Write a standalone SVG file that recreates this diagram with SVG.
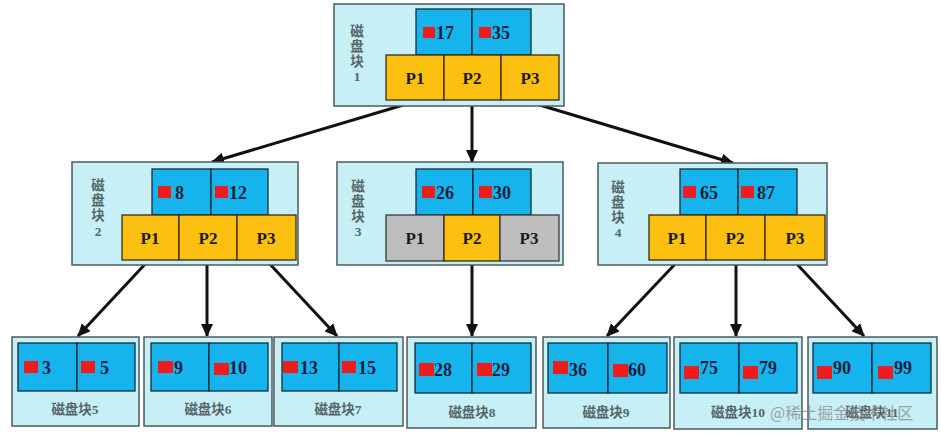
<svg xmlns="http://www.w3.org/2000/svg" width="941" height="437" viewBox="0 0 941 437">
<defs>
<style>
.outer{fill:#c6eff6;stroke:#4d5a5c;stroke-width:1.5}
.key{fill:#16b4ec;stroke:#1a2a3a;stroke-width:1.3}
.ptr{fill:#fcc010;stroke:#3a2a10;stroke-width:1.3}
.gray{fill:#bdbdbd;stroke:#3a3a3a;stroke-width:1.3}
.red{fill:#ee1c1c}
.num{font-family:"Liberation Serif",serif;font-weight:bold;font-size:18px;fill:#1b1f3f}
.p{font-family:"Liberation Serif",serif;font-weight:bold;font-size:17px;fill:#1a1a1a;text-anchor:middle}
.lbl{font-family:"Liberation Serif","Noto Sans CJK SC",serif;font-size:13.5px;font-weight:bold;fill:#56666a;text-anchor:middle}
.wm{font-family:"Noto Sans CJK SC",sans-serif;font-size:16px;fill:#8a8a8a;opacity:0.75}
.edge{stroke:#111;stroke-width:3;fill:none;marker-end:url(#ah)}
</style>
<marker id="ah" markerUnits="userSpaceOnUse" markerWidth="14" markerHeight="12" refX="12" refY="6" orient="auto">
<path d="M0,0 L13,6 L0,12 Z" fill="#111"/>
</marker>
</defs>

<g id="connectors">
<line class="edge" x1="410" y1="103" x2="212" y2="162"/>
<line class="edge" x1="472" y1="100" x2="472" y2="162"/>
<line class="edge" x1="533" y1="103" x2="733" y2="163"/>
<line class="edge" x1="148" y1="261" x2="78" y2="336"/>
<line class="edge" x1="207" y1="261" x2="207" y2="336"/>
<line class="edge" x1="267" y1="261" x2="337" y2="336"/>
<line class="edge" x1="472" y1="262" x2="472" y2="336"/>
<line class="edge" x1="677" y1="262" x2="607" y2="336"/>
<line class="edge" x1="736" y1="262" x2="736" y2="336"/>
<line class="edge" x1="795" y1="262" x2="864" y2="336"/>
</g>

<g id="node1">
<rect class="outer" x="334" y="4" width="230" height="102"/>
<rect class="key" x="416" y="9" width="56" height="46"/>
<rect class="key" x="472" y="9" width="59" height="46"/>
<rect class="ptr" x="386" y="55" width="58" height="45"/>
<rect class="ptr" x="444" y="55" width="57" height="45"/>
<rect class="ptr" x="501" y="55" width="58" height="45"/>
<text class="lbl" x="357" y="36">磁</text>
<text class="lbl" x="357" y="51">盘</text>
<text class="lbl" x="357" y="66">块</text>
<text class="lbl" x="357" y="81">1</text>
<rect class="red" x="423" y="27" width="12" height="11"/>
<text class="num" x="436" y="39">17</text>
<rect class="red" x="479" y="27" width="12" height="11"/>
<text class="num" x="492" y="39">35</text>
<text class="p" x="415" y="84">P1</text>
<text class="p" x="472" y="84">P2</text>
<text class="p" x="530" y="84">P3</text>
</g>

<g id="node2">
<rect class="outer" x="72" y="162" width="226" height="103"/>
<rect class="key" x="152" y="169" width="59" height="46"/>
<rect class="key" x="211" y="169" width="57" height="46"/>
<rect class="ptr" x="122" y="215" width="57" height="45"/>
<rect class="ptr" x="179" y="215" width="58" height="45"/>
<rect class="ptr" x="237" y="215" width="59" height="45"/>
<text class="lbl" x="98" y="190">磁</text>
<text class="lbl" x="98" y="205">盘</text>
<text class="lbl" x="98" y="220">块</text>
<text class="lbl" x="98" y="236">2</text>
<rect class="red" x="158" y="186" width="13" height="12"/>
<text class="num" x="175" y="199">8</text>
<rect class="red" x="215" y="186" width="13" height="12"/>
<text class="num" x="229" y="199">12</text>
<text class="p" x="150" y="244">P1</text>
<text class="p" x="208" y="244">P2</text>
<text class="p" x="266" y="244">P3</text>
</g>

<g id="node3">
<rect class="outer" x="337" y="162" width="226" height="103"/>
<rect class="key" x="416" y="169" width="57" height="46"/>
<rect class="key" x="473" y="169" width="58" height="46"/>
<rect class="gray" x="386" y="215" width="58" height="46"/>
<rect class="ptr" x="444" y="215" width="56" height="46"/>
<rect class="gray" x="500" y="215" width="59" height="46"/>
<text class="lbl" x="358" y="191">磁</text>
<text class="lbl" x="358" y="206">盘</text>
<text class="lbl" x="358" y="221">块</text>
<text class="lbl" x="358" y="236">3</text>
<rect class="red" x="422" y="186" width="13" height="12"/>
<text class="num" x="436" y="199">26</text>
<rect class="red" x="479" y="186" width="13" height="12"/>
<text class="num" x="493" y="199">30</text>
<text class="p" x="415" y="244">P1</text>
<text class="p" x="472" y="244">P2</text>
<text class="p" x="529" y="244">P3</text>
</g>

<g id="node4">
<rect class="outer" x="598" y="163" width="229" height="102"/>
<rect class="key" x="680" y="169" width="58" height="46"/>
<rect class="key" x="738" y="169" width="59" height="46"/>
<rect class="ptr" x="649" y="215" width="57" height="45"/>
<rect class="ptr" x="706" y="215" width="59" height="45"/>
<rect class="ptr" x="765" y="215" width="60" height="45"/>
<text class="lbl" x="618" y="192">磁</text>
<text class="lbl" x="618" y="207">盘</text>
<text class="lbl" x="618" y="222">块</text>
<text class="lbl" x="618" y="237">4</text>
<rect class="red" x="683" y="186" width="13" height="12"/>
<text class="num" x="700" y="199">65</text>
<rect class="red" x="741" y="186" width="13" height="12"/>
<text class="num" x="757" y="199">87</text>
<text class="p" x="677" y="244">P1</text>
<text class="p" x="735" y="244">P2</text>
<text class="p" x="795" y="244">P3</text>
</g>

<g id="leaf5">
<rect class="outer" x="12" y="337" width="127" height="89"/>
<rect class="key" x="18" y="343" width="59" height="48"/>
<rect class="key" x="77" y="343" width="58" height="48"/>
<rect class="red" x="24" y="361" width="14" height="12"/>
<text class="num" x="42" y="374">3</text>
<rect class="red" x="81" y="361" width="14" height="12"/>
<text class="num" x="100" y="374">5</text>
<text class="lbl" x="75" y="414">磁盘块5</text>
</g>

<g id="leaf6">
<rect class="outer" x="144" y="337" width="128" height="89"/>
<rect class="key" x="151" y="343" width="58" height="48"/>
<rect class="key" x="209" y="343" width="59" height="48"/>
<rect class="red" x="158" y="361" width="15" height="12"/>
<text class="num" x="174" y="374">9</text>
<rect class="red" x="214" y="363" width="15" height="12"/>
<text class="num" x="229" y="374">10</text>
<text class="lbl" x="208" y="414">磁盘块6</text>
</g>

<g id="leaf7">
<rect class="outer" x="274" y="337" width="129" height="89"/>
<rect class="key" x="282" y="343" width="57" height="48"/>
<rect class="key" x="339" y="343" width="58" height="48"/>
<rect class="red" x="283" y="361" width="15" height="12"/>
<text class="num" x="300" y="374">13</text>
<rect class="red" x="342" y="361" width="14" height="12"/>
<text class="num" x="358" y="374">15</text>
<text class="lbl" x="338" y="414">磁盘块7</text>
</g>

<g id="leaf8">
<rect class="outer" x="407" y="337" width="129" height="91"/>
<rect class="key" x="415" y="343" width="57" height="50"/>
<rect class="key" x="472" y="343" width="59" height="50"/>
<rect class="red" x="419" y="363" width="15" height="13"/>
<text class="num" x="434" y="376">28</text>
<rect class="red" x="477" y="363" width="15" height="13"/>
<text class="num" x="492" y="376">29</text>
<text class="lbl" x="472" y="417">磁盘块8</text>
</g>

<g id="leaf9">
<rect class="outer" x="543" y="337" width="127" height="91"/>
<rect class="key" x="548" y="343" width="60" height="50"/>
<rect class="key" x="608" y="343" width="59" height="50"/>
<rect class="red" x="553" y="361" width="15" height="13"/>
<text class="num" x="569" y="376">36</text>
<rect class="red" x="613" y="364" width="15" height="13"/>
<text class="num" x="628" y="376">60</text>
<text class="lbl" x="606" y="417">磁盘块9</text>
</g>

<g id="leaf10">
<rect class="outer" x="674" y="337" width="128" height="92"/>
<rect class="key" x="680" y="343" width="59" height="50"/>
<rect class="key" x="739" y="343" width="58" height="50"/>
<rect class="red" x="684" y="366" width="15" height="13"/>
<text class="num" x="700" y="374">75</text>
<rect class="red" x="743" y="366" width="15" height="13"/>
<text class="num" x="759" y="374">79</text>
<text class="lbl" x="738" y="417">磁盘块10</text>
</g>

<g id="leaf11">
<rect class="outer" x="808" y="337" width="129" height="92"/>
<rect class="key" x="813" y="343" width="59" height="50"/>
<rect class="key" x="872" y="343" width="59" height="50"/>
<rect class="red" x="817" y="366" width="15" height="13"/>
<text class="num" x="833" y="374">90</text>
<rect class="red" x="878" y="366" width="15" height="13"/>
<text class="num" x="894" y="374">99</text>
<text class="lbl" x="872" y="417">磁盘块11</text>
</g>

<text class="wm" x="770" y="419">@稀土掘金技术社区</text>
</svg>
